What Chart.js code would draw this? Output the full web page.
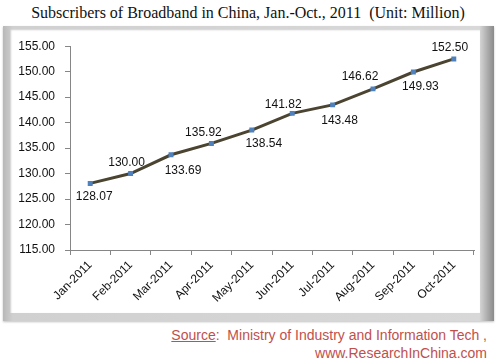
<!DOCTYPE html>
<html>
<head>
<meta charset="utf-8">
<script src="https://cdn.jsdelivr.net/npm/chart.js@4"></script>
<style>
  html, body { margin: 0; padding: 0; background: #fff; }
  body { width: 496px; height: 358px; position: relative; overflow: hidden; }
  #title {
    position: absolute; left: 0; top: 4px; width: 496px; text-align: center;
    font-family: "Liberation Serif", "DejaVu Serif", serif; font-size: 16px; color: #111;
  }
  #frame {
    position: absolute; left: 3px; top: 26px; width: 491px; height: 295px;
    background: linear-gradient(to right, #b8b8b8, #d0d0d0 2%, #d8d8d8 97%, #8a8a8a);
    box-shadow: 0 1px 2px rgba(0,0,0,0.25);
  }
  #inner {
    position: absolute; left: 7px; top: 3px; width: 470px; height: 284px;
    background: #fff;
    box-shadow: inset 1px 1px 2px rgba(0,0,0,0.2);
  }
  #source {
    position: absolute; right: 9px; top: 326px; text-align: right;
    font-family: "Liberation Sans", Arial, sans-serif; font-size: 14px; color: #c0504d;
    line-height: 18px;
  }
  #source u { text-decoration: underline; }
</style>
</head>
<body>
<div id="title">Subscribers of Broadband in China, Jan.-Oct., 2011&nbsp;&nbsp;(Unit: Million)</div>
<div id="frame"><div id="inner"><canvas id="chart" width="470" height="284"></canvas></div></div>
<div id="source"><u>Source</u>:&nbsp; Ministry of Industry and Information Tech ,<br>www.ResearchInChina.com</div>
<script>
const months = ['Jan-2011', 'Feb-2011', 'Mar-2011', 'Apr-2011', 'May-2011',
                'Jun-2011', 'Jul-2011', 'Aug-2011', 'Sep-2011', 'Oct-2011'];
const subscribers = [128.07, 130.00, 133.69, 135.92, 138.54, 141.82, 143.48, 146.62, 149.93, 152.50];
const yMin = 115;
const yMax = 155;
const yStep = 5;

// value labels: offset of each label from its point (px), as placed in the picture
const labelOffsets = [[4, 13], [-4, -11], [12, 16], [-8, -11], [12, 14],
                      [-9, -9], [7, 16], [-13, -12], [7, 15], [-4, -11]];

const valueLabels = {
    id: 'valueLabels',
    afterDatasetsDraw(chart) {
        const ctx = chart.ctx;
        const meta = chart.getDatasetMeta(0);
        ctx.save();
        ctx.font = '12px "Liberation Sans", Arial, sans-serif';
        ctx.fillStyle = '#111';
        ctx.textAlign = 'center';
        ctx.textBaseline = 'middle';
        meta.data.forEach(function(pt, i) {
            let off = labelOffsets[i];
            ctx.fillText(subscribers[i].toFixed(2), pt.x + off[0], pt.y + off[1]);
        });
        ctx.restore();
    }
};

const ctx = document.getElementById('chart').getContext('2d');
new Chart(ctx, {
    type: 'line',
    data: {
        labels: months,
        datasets: [{
            data: subscribers,
            borderColor: '#4b4431',
            borderWidth: 3,
            pointStyle: 'rect',
            pointRadius: 3.5,
            pointBackgroundColor: '#4f81bd',
            pointBorderColor: '#4f81bd',
            pointBorderWidth: 0,
            tension: 0
        }]
    },
    options: {
        responsive: false,
        animation: false,
        events: [],
        layout: { padding: { top: 15, right: 6, left: 0, bottom: 0 } },
        plugins: {
            legend: { display: false },
            tooltip: { enabled: false }
        },
        scales: {
            x: {
                offset: true,
                grid: { offset: true, drawOnChartArea: false, drawTicks: true, tickLength: 5, color: '#868686' },
                border: { color: '#868686' },
                ticks: {
                    minRotation: 45, maxRotation: 45, autoSkip: false,
                    color: '#111',
                    font: { family: '"Liberation Sans", Arial, sans-serif', size: 12 }
                },
                afterFit: function(scale) { scale.height = 63; }
            },
            y: {
                min: yMin,
                max: yMax,
                grid: { drawOnChartArea: false, drawTicks: true, tickLength: 5, color: '#868686' },
                border: { color: '#868686' },
                ticks: {
                    stepSize: yStep,
                    color: '#111',
                    padding: 10,
                    font: { family: '"Liberation Sans", Arial, sans-serif', size: 12 },
                    callback: function(value) { return value.toFixed(2); }
                },
                afterFit: function(scale) { scale.width = 60; }
            }
        }
    },
    plugins: [valueLabels]
});
</script>
</body>
</html>
